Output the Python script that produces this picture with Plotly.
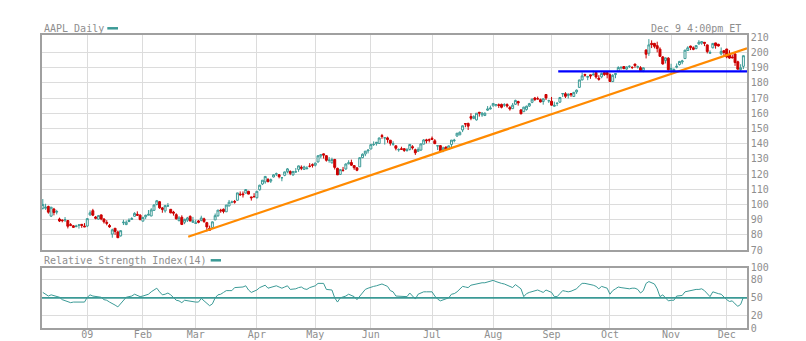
import plotly.graph_objects as go

# ---- AAPL daily prices, 9 Dec 2008 .. 9 Dec 2009 (one row per month) ----
open_prices = [
    97.49, 97.60, 98.70, 92.40, 97.00, 95.00, 90.50, 89.80, 89.90, 89.50, 86.80, 86.00, 85.50, 86.30, 87.00, 85.80,
    85.88, 93.17, 95.95, 91.81, 90.43, 93.21, 90.46, 88.24, 86.24, 80.57, 84.42, 81.93, 79.38, 88.04, 86.82, 88.86, 90.22, 92.30, 93.59, 93.01,
    89.10, 91.94, 93.00, 92.50, 96.20, 100.00, 101.86, 97.80, 95.83, 98.99, 96.87, 95.05, 93.37, 89.40, 91.65, 88.38, 89.77, 92.18, 88.28,
    87.59, 89.24, 89.46, 90.62, 88.10, 84.43, 84.86, 89.90, 92.60, 96.30, 96.90, 95.24, 99.10, 101.60, 102.00, 102.80, 106.90, 107.00, 107.50, 108.70, 105.00, 105.20,
    104.50, 109.70, 113.50, 114.90, 116.40, 115.40, 118.10, 120.00, 119.60, 117.60, 119.20, 121.60, 121.70, 119.50, 121.40, 123.10, 124.50, 123.10, 123.60, 125.20, 126.20,
    125.80, 128.00, 131.90, 133.30, 132.10, 129.00, 127.40, 129.60, 123.80, 119.80, 122.60, 123.40, 126.80, 127.60, 125.60, 124.10, 124.80, 130.80, 133.20, 135.30,
    136.50, 139.40, 140.00, 140.10, 145.30, 143.80, 143.80, 142.30, 139.60, 138.60, 136.00, 136.60, 136.70, 135.50, 136.20, 138.00, 136.00, 135.00, 135.80, 139.70, 142.50, 142.50,
    143.50, 141.90, 138.50, 138.70, 135.90, 137.80, 136.20, 139.50, 142.00, 145.00, 145.80, 149.00, 153.20, 153.30, 157.80, 156.60, 155.60, 160.60, 158.90, 158.50, 162.00, 162.80,
    164.80, 165.50, 165.60, 165.80, 165.50, 165.70, 163.70, 163.00, 165.90, 167.70, 162.20, 161.00, 162.50, 164.70, 167.20, 170.00, 169.50, 168.90, 167.70, 172.30, 168.20,
    167.90, 164.60, 166.40, 167.30, 172.70, 172.80, 171.60, 172.90, 171.00, 174.00, 177.00, 181.90, 185.40, 183.70, 185.20, 185.10, 186.80, 183.00, 183.90, 186.80, 186.70,
    185.30, 180.80, 185.40, 187.60, 189.80, 190.70, 189.00, 190.80, 190.10, 192.30, 190.30, 189.90, 188.00, 201.50, 199.50, 205.90, 205.90, 204.40, 202.10, 197.00, 194.60, 196.20,
    188.80, 187.80, 190.20, 192.00, 193.70, 195.90, 201.20, 204.10, 203.00, 202.50, 205.50, 206.10, 206.60, 204.90, 199.40, 203.00, 206.20, 205.30, 199.00, 201.10,
    202.20, 198.20, 196.90, 199.00, 193.80, 188.60, 190.80,
]
high_prices = [
    103.60, 100.50, 99.30, 98.40, 97.80, 96.50, 91.40, 90.20, 91.80, 89.60, 87.80, 86.50, 86.70, 87.00, 87.20, 87.80,
    91.04, 96.18, 97.17, 92.50, 93.15, 93.48, 90.99, 89.74, 87.25, 84.12, 84.50, 82.90, 82.95, 90.00, 89.59, 90.94, 91.69, 94.96, 95.53, 93.68,
    92.00, 93.30, 96.40, 97.60, 100.06, 103.00, 102.35, 98.40, 99.75, 101.00, 97.04, 95.85, 94.25, 92.40, 92.92, 90.70, 91.87, 92.94, 91.86,
    90.09, 89.87, 92.65, 91.35, 88.60, 86.14, 88.90, 94.10, 96.40, 97.20, 97.40, 99.70, 103.00, 102.60, 103.00, 107.70, 108.60, 108.60, 109.98, 109.00, 105.10, 107.45,
    108.80, 113.00, 116.00, 118.80, 117.40, 117.10, 120.00, 121.00, 120.00, 118.00, 121.60, 124.00, 122.50, 122.00, 124.00, 125.60, 125.70, 125.50, 125.20, 127.20, 127.00,
    127.50, 132.30, 133.00, 133.50, 132.40, 131.20, 130.80, 130.00, 124.20, 123.30, 124.70, 127.00, 129.10, 129.50, 125.80, 124.50, 130.90, 133.60, 135.20, 135.90,
    140.00, 141.50, 141.10, 144.00, 146.40, 144.20, 144.60, 142.40, 141.60, 138.70, 136.90, 138.00, 137.00, 137.10, 139.80, 139.00, 136.70, 137.60, 140.00, 143.00, 143.20, 143.40,
    144.70, 143.00, 138.90, 139.00, 138.00, 138.00, 138.80, 142.40, 143.20, 147.00, 148.00, 152.00, 153.40, 153.80, 160.00, 158.70, 160.00, 160.90, 160.80, 160.50, 164.70, 165.00,
    166.60, 166.00, 166.40, 166.30, 166.60, 166.50, 164.80, 166.70, 168.90, 168.20, 162.60, 164.20, 165.00, 166.80, 169.60, 170.70, 170.90, 169.60, 169.70, 172.50, 168.90,
    170.70, 167.60, 167.10, 170.70, 173.00, 173.80, 173.00, 173.20, 174.00, 175.60, 182.00, 186.80, 186.00, 184.60, 185.30, 188.00, 187.00, 185.00, 186.70, 187.30, 186.90,
    186.20, 185.70, 186.20, 190.90, 190.30, 191.00, 190.60, 191.50, 190.90, 192.50, 191.30, 190.90, 190.00, 202.00, 208.70, 207.90, 206.20, 207.00, 203.30, 197.60, 196.60, 196.80,
    192.50, 189.50, 192.70, 194.40, 195.10, 201.60, 204.00, 204.40, 203.90, 204.60, 208.00, 207.40, 206.70, 205.10, 201.30, 206.00, 206.30, 205.60, 203.20, 201.40,
    202.30, 201.40, 198.50, 199.10, 194.50, 192.20, 197.90,
]
low_prices = [
    96.75, 96.50, 94.00, 91.80, 92.90, 93.50, 88.50, 88.30, 88.50, 84.30, 85.80, 84.80, 85.10, 84.20, 84.70, 85.30,
    85.16, 92.71, 92.39, 90.26, 90.04, 89.68, 87.55, 86.35, 84.70, 78.20, 80.10, 78.00, 79.00, 86.53, 86.50, 88.40, 89.90, 92.00, 92.66, 89.60,
    88.90, 90.40, 92.90, 92.30, 96.00, 99.50, 97.20, 94.60, 94.70, 98.60, 94.28, 92.72, 90.11, 89.00, 86.51, 87.11, 88.52, 88.99, 88.14,
    87.42, 87.70, 89.02, 87.95, 82.33, 82.88, 84.70, 89.80, 92.00, 94.60, 94.20, 95.07, 98.80, 100.80, 100.60, 102.60, 105.60, 104.60, 107.40, 106.70, 102.60, 104.90,
    103.90, 109.20, 112.80, 113.70, 114.70, 114.20, 117.80, 118.70, 117.20, 115.30, 118.60, 120.50, 119.30, 118.90, 121.00, 121.50, 122.60, 122.80, 123.00, 124.40, 124.30,
    125.00, 127.60, 130.40, 130.20, 128.20, 127.50, 127.00, 123.00, 119.40, 119.50, 121.60, 122.80, 126.40, 125.30, 122.80, 121.90, 124.70, 130.50, 131.80, 133.60,
    136.30, 138.50, 138.70, 139.90, 143.20, 139.40, 140.60, 138.70, 138.60, 135.60, 134.70, 135.90, 134.60, 134.70, 135.50, 136.10, 132.60, 134.60, 135.20, 139.50, 140.20, 140.80,
    142.50, 139.70, 135.80, 135.00, 134.40, 135.80, 135.90, 137.80, 140.90, 144.60, 145.60, 147.60, 150.80, 149.00, 155.40, 156.10, 155.20, 157.80, 157.60, 158.10, 161.50, 162.50,
    164.50, 164.30, 163.50, 163.20, 164.20, 163.70, 161.70, 162.80, 165.40, 165.00, 159.40, 160.80, 161.70, 164.20, 166.60, 168.00, 169.10, 167.10, 165.60, 168.70, 166.80,
    165.00, 164.30, 164.70, 166.70, 170.70, 170.00, 169.70, 170.80, 170.80, 172.70, 176.60, 181.60, 184.00, 181.70, 182.60, 185.00, 182.70, 181.40, 183.00, 184.60, 182.90,
    180.70, 180.50, 183.00, 187.00, 188.60, 189.00, 188.60, 189.70, 189.00, 189.90, 189.30, 187.80, 187.00, 196.00, 197.70, 202.80, 202.60, 200.00, 197.00, 191.90, 192.70, 188.00,
    185.40, 186.60, 189.50, 191.30, 192.20, 195.80, 201.00, 201.50, 201.40, 202.00, 205.00, 205.00, 204.10, 199.30, 199.00, 202.60, 202.40, 203.80, 198.00, 197.70,
    196.10, 195.70, 196.00, 191.10, 188.70, 187.30, 189.00,
]
close_prices = [
    100.06, 98.21, 95.00, 98.27, 94.75, 95.43, 89.16, 89.43, 90.00, 85.74, 86.38, 85.04, 85.81, 86.61, 86.29, 85.35,
    90.75, 94.58, 93.02, 91.01, 92.70, 90.58, 88.66, 87.71, 85.33, 83.38, 82.33, 78.20, 82.83, 88.36, 88.36, 89.64, 90.73, 94.20, 93.00, 90.13,
    91.51, 92.98, 93.55, 96.46, 99.72, 102.51, 97.83, 96.82, 99.27, 99.16, 94.53, 94.37, 90.64, 91.20, 86.95, 90.25, 91.16, 89.19, 89.31,
    87.94, 88.37, 91.17, 88.84, 85.30, 83.11, 88.63, 92.68, 96.35, 95.93, 95.42, 99.66, 101.52, 101.62, 101.59, 107.66, 106.50, 106.49, 109.87, 106.85, 104.49, 105.12,
    108.69, 112.71, 115.99, 118.45, 115.00, 116.32, 119.57, 120.22, 118.31, 117.64, 121.45, 123.42, 120.50, 121.76, 121.51, 125.40, 123.90, 124.73, 123.90, 125.14, 125.83,
    127.24, 132.07, 132.71, 132.50, 129.06, 129.19, 129.57, 124.42, 119.49, 122.95, 122.42, 126.65, 127.45, 125.87, 124.18, 122.50, 130.78, 133.05, 135.07, 135.81,
    139.35, 139.49, 140.95, 143.74, 144.67, 143.85, 142.72, 140.25, 139.95, 136.97, 136.09, 136.35, 135.58, 135.88, 139.48, 137.37, 134.01, 136.22, 139.86, 142.44, 141.97, 142.43,
    142.83, 140.02, 138.61, 135.40, 137.22, 136.36, 138.52, 142.34, 142.27, 146.88, 147.52, 151.75, 152.91, 151.51, 156.74, 157.82, 159.99, 160.10, 160.00, 160.03, 162.79, 163.39,
    166.43, 165.55, 165.11, 163.91, 165.51, 164.72, 162.83, 165.31, 168.42, 166.78, 159.59, 164.00, 164.60, 166.33, 169.22, 169.06, 169.40, 167.41, 169.45, 170.05, 168.21,
    165.30, 165.18, 166.55, 170.31, 172.93, 171.14, 172.56, 172.16, 173.72, 175.16, 181.87, 184.55, 185.02, 184.02, 184.48, 185.50, 183.82, 182.37, 186.15, 185.38, 185.35,
    180.86, 184.90, 186.02, 190.01, 190.25, 189.27, 190.47, 190.81, 190.02, 191.29, 190.56, 188.05, 189.86, 198.76, 204.92, 205.20, 203.94, 202.48, 197.37, 192.40, 196.35, 188.50,
    189.31, 188.75, 190.81, 194.03, 194.34, 201.46, 202.98, 203.25, 201.99, 204.45, 206.63, 207.00, 205.96, 200.51, 199.92, 205.88, 204.44, 204.19, 200.59, 199.91,
    196.97, 196.23, 196.48, 193.32, 188.95, 189.87, 197.80,
]

# Relative Strength Index (14), one value per session
rsi_values = [
    59, 56, 53, 55, 54, 53, 51, 47, 45, 44, 42, 43, 43, 43, 43, 43,
    51, 55, 53, 52, 52, 51, 47, 46, 43, 41, 38, 35, 40, 46, 51, 52, 53, 56, 54, 52,
    53, 54, 56, 60, 63, 66, 60, 55, 56, 58, 55, 50, 46, 45, 42, 46, 45, 44, 43,
    43, 43, 49, 45, 41, 37, 40, 50, 55, 56, 59, 62, 62, 62, 67, 67, 67, 68, 70, 63, 59, 61,
    63, 67, 69, 71, 66, 67, 68, 70, 68, 66, 68, 70, 64, 64, 65, 67, 68, 65, 64, 67, 68,
    70, 74, 74, 74, 64, 63, 63, 50, 43, 50, 51, 53, 56, 54, 52, 47, 53, 59, 64, 66,
    68, 69, 70, 71, 73, 71, 69, 62, 60, 53, 53, 53, 52, 52, 58, 52, 48, 56, 58, 60, 60, 60,
    60, 53, 48, 45, 47, 48, 50, 56, 57, 60, 64, 69, 68, 67, 71, 72, 74, 75, 75, 75, 76, 77,
    79, 77, 75, 74, 73, 71, 69, 67, 72, 69, 65, 52, 57, 59, 60, 62, 63, 61, 59, 63, 61,
    59, 52, 52, 57, 62, 61, 60, 61, 63, 65, 70, 74, 74, 73, 73, 71, 69, 65, 69, 67, 66,
    56, 62, 65, 68, 67, 66, 66, 65, 66, 66, 64, 58, 62, 74, 77, 75, 73, 65, 52, 55, 49, 45,
    46, 46, 53, 53, 54, 60, 61, 63, 63, 64, 64, 65, 62, 56, 52, 60, 58, 57, 56, 51,
    47, 44, 45, 40, 36, 39, 51,
]
rsi_midline = 50

# Trend lines (session index, price)
support_x = [52.3, 253.3]
support_y = [78.8, 202.7]
floor_x = [185.4, 253.3]
floor_y = [187.5, 187.5]

# Month boundaries (session index of first trading day) and labels
month_ticks = [16, 36, 55, 77, 98, 118, 140, 162, 183, 204, 226, 246]
month_labels = ["09", "Feb", "Mar", "Apr", "May", "Jun", "Jul", "Aug", "Sep", "Oct", "Nov", "Dec"]
price_ticks = [70, 80, 90, 100, 110, 120, 130, 140, 150, 160, 170, 180, 190, 200, 210]
rsi_ticks = [0, 20, 50, 80, 100]

TEAL = "#3b9a96"
RED = "#cc0000"
GRID = "#dcdcdc"
FRAME = "#a0a0a0"
TXT = "#8e8e8e"
FONT = "DejaVu Sans Mono"

session = list(range(len(close_prices)))
x_range = [-0.29, 253.3]

fig = go.Figure()

fig.add_trace(go.Candlestick(
    x=session, open=open_prices, high=high_prices, low=low_prices, close=close_prices,
    increasing=dict(line=dict(color=TEAL, width=1), fillcolor="white"),
    decreasing=dict(line=dict(color=RED, width=1), fillcolor=RED),
    whiskerwidth=0, showlegend=False, xaxis="x", yaxis="y", hoverinfo="skip",
))
fig.add_trace(go.Scatter(x=support_x, y=support_y, mode="lines",
                         line=dict(color="#ff8a00", width=2.2), showlegend=False,
                         xaxis="x", yaxis="y", hoverinfo="skip"))
fig.add_trace(go.Scatter(x=floor_x, y=floor_y, mode="lines",
                         line=dict(color="#0000ff", width=2.4), showlegend=False,
                         xaxis="x", yaxis="y", hoverinfo="skip"))

fig.add_trace(go.Scatter(x=x_range, y=[rsi_midline, rsi_midline], mode="lines",
                         line=dict(color=TEAL, width=1.6), showlegend=False,
                         xaxis="x2", yaxis="y2", hoverinfo="skip"))
fig.add_trace(go.Scatter(x=session, y=rsi_values, mode="lines",
                         line=dict(color=TEAL, width=1), showlegend=False,
                         xaxis="x2", yaxis="y2", hoverinfo="skip"))

W, H = 806, 341
ML, MR, MT, MB = 42, 59, 35, 13
pw, ph = W - ML - MR, H - MT - MB


def px_x(x):
    return (x - ML) / pw


def px_y(y):
    return (H - MB - y) / ph


axis_common = dict(showline=True, linecolor=FRAME, linewidth=1.5, mirror=True,
                   gridcolor=GRID, gridwidth=1, zeroline=False, ticks="",
                   automargin=False,
                   tickfont=dict(family=FONT, size=10, color=TXT), fixedrange=True)

fig.update_layout(
    width=W, height=H,
    margin=dict(l=ML, r=MR, t=MT, b=MB, autoexpand=False),
    paper_bgcolor="white", plot_bgcolor="white",
    font=dict(family=FONT, size=10, color=TXT),
    boxgap=0.0,
    xaxis=dict(domain=[0, 1], anchor="y", range=x_range, tickmode="array",
               tickvals=month_ticks, showticklabels=False,
               rangeslider=dict(visible=False), **axis_common),
    yaxis=dict(domain=[px_y(250.2), 1], anchor="x", side="right", range=[70, 211.4],
               tickmode="array", tickvals=price_ticks, showgrid=False,
               minor=dict(tickvals=price_ticks[1:-1], showgrid=True, gridcolor=GRID, ticks=""),
               **axis_common),
    xaxis2=dict(domain=[0, 1], anchor="y2", range=x_range, tickmode="array",
                tickvals=month_ticks, ticktext=month_labels, ticklabelstandoff=-4,
                **axis_common),
    yaxis2=dict(domain=[0, px_y(267.7)], anchor="x2", side="right", range=[0, 100],
                tickmode="array", tickvals=rsi_ticks, showgrid=False,
                minor=dict(tickvals=[20, 80], showgrid=True, gridcolor=GRID, ticks=""),
                **axis_common),
)

fig.add_annotation(text="AAPL Daily", xref="paper", yref="paper", x=px_x(42),
                   y=px_y(29), xanchor="left", yanchor="middle", showarrow=False,
                   font=dict(family=FONT, size=10, color=TXT))
fig.add_annotation(text="Dec 9 4:00pm ET", xref="paper", yref="paper", x=px_x(743),
                   y=px_y(29), xanchor="right", yanchor="middle", showarrow=False,
                   font=dict(family=FONT, size=10, color=TXT))
fig.add_annotation(text="Relative Strength Index(14)", xref="paper", yref="paper",
                   x=px_x(42), y=px_y(260.7), xanchor="left", yanchor="middle",
                   showarrow=False, font=dict(family=FONT, size=10, color=TXT))

# small teal legend swatches beside the panel titles
fig.add_shape(type="line", xref="paper", yref="paper", x0=px_x(107.3), x1=px_x(118),
              y0=px_y(28.3), y1=px_y(28.3), line=dict(color=TEAL, width=2.5))
fig.add_shape(type="line", xref="paper", yref="paper", x0=px_x(210.7), x1=px_x(221),
              y0=px_y(260.3), y1=px_y(260.3), line=dict(color=TEAL, width=2.5))

fig.write_html("out.html")
